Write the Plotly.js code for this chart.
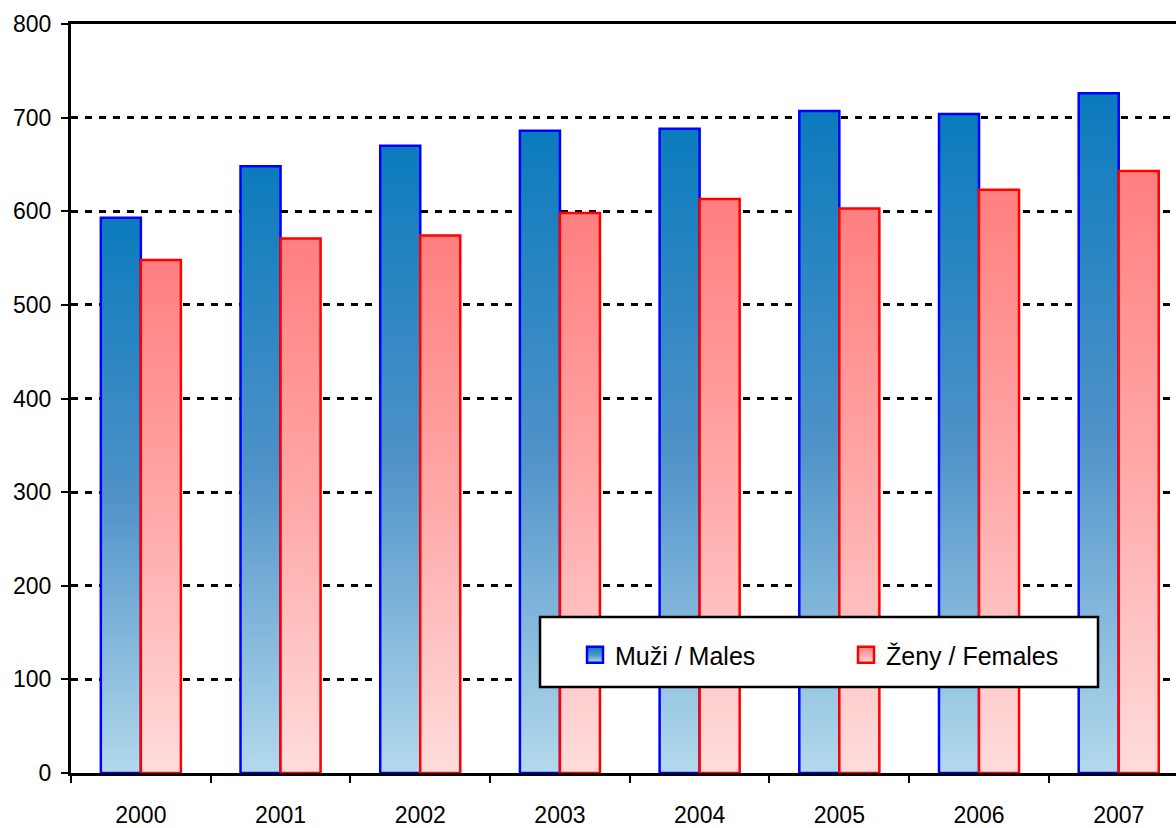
<!DOCTYPE html>
<html>
<head>
<meta charset="utf-8">
<script src="https://cdn.plot.ly/plotly-3.0.1.min.js"></script>
<style>
  body { margin: 0; background: #fff; }
  #chart { width: 1176px; height: 828px; }
</style>
</head>
<body>
<div id="chart"></div>
<script>
CHART = document.getElementById('chart')

const years = ['2000', '2001', '2002', '2003', '2004', '2005', '2006', '2007']
const males = [593, 648, 670, 686, 688, 707, 704, 726]
const females = [548, 571, 574, 598, 613, 603, 623, 643]
const yTicks = [0, 100, 200, 300, 400, 500, 600, 700, 800]

const FONT = '"Liberation Sans Narrow", "Arial Narrow", "Liberation Sans", Arial, sans-serif'

const men = {
  x: years,
  y: males,
  type: 'bar',
  name: 'Muži / Males',
  marker: {
    color: '#4f93c8',
    line: { color: '#0000ff', width: 2.5 }
  },
  hoverinfo: 'x+y'
}

const women = {
  x: years,
  y: females,
  type: 'bar',
  name: 'Ženy / Females',
  marker: {
    color: '#ffa8a8',
    line: { color: '#ff0000', width: 2.5 }
  },
  hoverinfo: 'x+y'
}

const layout = {
  width: 1176,
  height: 828,
  margin: { l: 71, r: 0, t: 24, b: 55 },
  barmode: 'group',
  bargap: 0.427,
  bargroupgap: 0,
  showlegend: true,
  font: { family: FONT, size: 23, color: '#000' },
  xaxis: {
    type: 'category',
    range: [-0.5, 7.41],
    tickson: 'boundaries',
    ticks: 'outside',
    ticklen: 7,
    tickwidth: 2,
    tickcolor: '#000',
    showline: true,
    mirror: true,
    linecolor: '#000',
    linewidth: 3,
    showgrid: false,
    ticklabelstandoff: 19,
    tickfont: { family: FONT, size: 23 }
  },
  yaxis: {
    range: [0, 800],
    tickmode: 'array',
    tickvals: yTicks,
    ticks: 'outside',
    ticklen: 7,
    tickwidth: 2,
    tickcolor: '#000',
    showline: true,
    linecolor: '#000',
    linewidth: 3,
    showgrid: true,
    gridcolor: '#000',
    gridwidth: 3,
    griddash: '7px,7px',
    zeroline: false,
    ticklabelstandoff: 5,
    tickfont: { family: FONT, size: 23 }
  },
  shapes: [{
    type: 'rect',
    xref: 'paper', yref: 'paper',
    x0: (540 - 71) / 1105, x1: (1098 - 71) / 1105,
    y0: (773 - 687) / 749, y1: (773 - 617) / 749,
    fillcolor: '#fff',
    line: { color: '#000', width: 2.5 },
    layer: 'above'
  }],
  legend: {
    orientation: 'h',
    x: (575 - 71) / 1105,
    y: (773 - 632) / 749,
    xanchor: 'left',
    yanchor: 'top',
    bgcolor: 'rgba(0,0,0,0)',
    borderwidth: 0,
    entrywidth: 226,
    font: { family: FONT, size: 25 }
  },
  paper_bgcolor: '#fff',
  plot_bgcolor: '#fff'
}

// gradient fills like the original, added after plotly has drawn the bars
function addGradients (gd) {
  const svg = gd.querySelector('svg.main-svg')
  const ns = 'http://www.w3.org/2000/svg'
  let defs = svg.querySelector('defs')
  if (!defs) { defs = document.createElementNS(ns, 'defs'); svg.insertBefore(defs, svg.firstChild) }
  const grads = {
    gMen: ['#0b7bbd', '#4e92c8', '#b3d9ec'],
    gWomen: ['#ff7f7f', '#ffa9a9', '#ffdcdc']
  }
  Object.keys(grads).forEach(id => {
    const g = document.createElementNS(ns, 'linearGradient')
    g.setAttribute('id', id)
    g.setAttribute('x1', '0'); g.setAttribute('y1', '0')
    g.setAttribute('x2', '0'); g.setAttribute('y2', '1')
    grads[id].forEach((c, i) => {
      const s = document.createElementNS(ns, 'stop')
      s.setAttribute('offset', (i / 2 * 100) + '%')
      s.setAttribute('stop-color', c)
      g.appendChild(s)
    })
    defs.appendChild(g)
  })
  const ids = ['gMen', 'gWomen']
  gd.querySelectorAll('.barlayer .trace.bars').forEach((t, i) => {
    t.querySelectorAll('.point path').forEach(p => { p.style.fill = 'url(#' + ids[i] + ')' })
  })
  // legend swatches: bigger squares with the same gradient
  const sw = document.querySelectorAll('.legend .traces')
  sw.forEach((t, i) => {
    t.querySelectorAll('.legendpoints path').forEach(p => {
      p.setAttribute('d', 'M8,8H-8V-8H8Z')
      p.style.fill = 'url(#' + ids[i] + ')'
      p.style.strokeWidth = '2.5px'
    })
  })
}

Plotly.newPlot(CHART, [men, women], layout, { displayModeBar: false, staticPlot: true })
  .then(addGradients)
</script>
</body>
</html>
